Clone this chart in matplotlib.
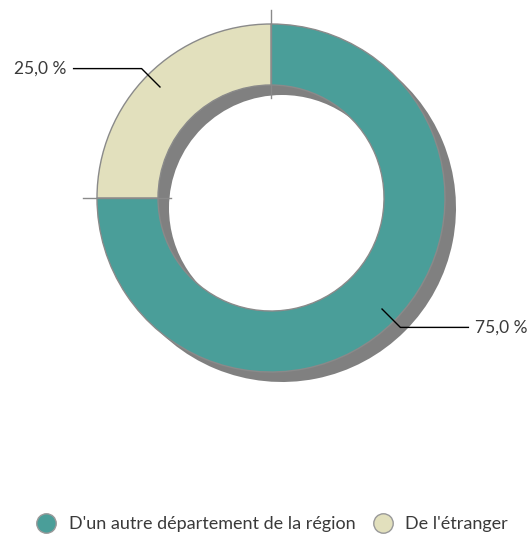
import numpy as np
import matplotlib
matplotlib.use("Agg")
from matplotlib import pyplot as plt
from matplotlib.lines import Line2D

labels = ["D'un autre département de la région", "De l'étranger"]
values = [75.0, 25.0]
value_text = ["75,0 %", "25,0 %"]
colors = ["#4a9e99", "#e2e0bd"]

plt.rcParams['font.family'] = ['Lato', 'DejaVu Sans']

W, H = 531, 534
fig = plt.figure(figsize=(W/100, H/100), dpi=100)
ax = fig.add_axes([0, 0, 1, 1])

cx, cy = 271, H - 198
r_out, r_in = 174, 113
sh = (11, -10)

# shadow
ax.pie(values, colors=["#808080"]*len(values), startangle=90, counterclock=False,
       center=(cx + sh[0], cy + sh[1]), radius=r_out,
       wedgeprops=dict(width=r_out - r_in, linewidth=0))
# ring
ax.pie(values, colors=colors, startangle=90, counterclock=False,
       center=(cx, cy), radius=r_out,
       wedgeprops=dict(width=r_out - r_in, edgecolor="#8a8a8a", linewidth=1))

# slice boundary ticks
tot = sum(values)
ang = 90.0
for v in values:
    a = np.radians(ang)
    ax.plot([cx + 100*np.cos(a), cx + 188*np.cos(a)],
            [cy + 100*np.sin(a), cy + 188*np.sin(a)], color="#8a8a8a", lw=1)
    ang -= 360*v/tot

# labels with leader lines
ang = 90.0
for v, t in zip(values, value_text):
    mid = np.radians(ang - 180*v/tot)
    ang -= 360*v/tot
    x0, y0 = cx + 157*np.cos(mid), cy + 157*np.sin(mid)
    x1, y1 = cx + 183*np.cos(mid), cy + 183*np.sin(mid)
    side = 1 if np.cos(mid) > 0 else -1
    x2 = x1 + side*68
    ax.plot([x0, x1, x2], [y0, y1, y1], color="black", lw=1)
    ax.text(x2 + side*7, y1, t, ha="left" if side > 0 else "right", va="center",
            fontsize=12.5, color="#3a3a3a")

ax.set_xlim(0, W)
ax.set_ylim(0, H)
ax.set_aspect("auto")
ax.axis("off")

handles = [Line2D([], [], marker="o", linestyle="", markersize=14,
                  markerfacecolor=c, markeredgecolor="#999999", markeredgewidth=1)
           for c in colors]
fig.legend(handles, labels, loc="center", bbox_to_anchor=(0.505, 1 - 524/H), ncol=2,
           frameon=False, fontsize=13, handletextpad=0.25, columnspacing=0.5,
           labelcolor="#3a3a3a")

fig.savefig("out.png", dpi=100)
